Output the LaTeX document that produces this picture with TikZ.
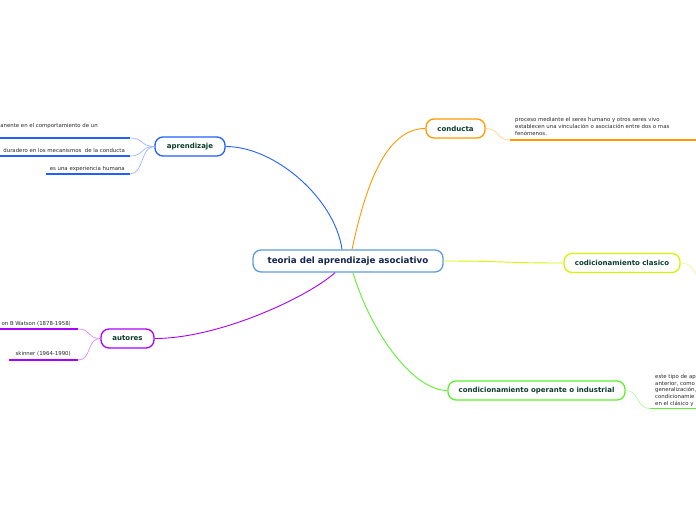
\documentclass[tikz,border=0pt]{standalone}
\usepackage{fontspec}
\setmainfont{DejaVu Sans}
\usetikzlibrary{positioning}
\usetikzlibrary{calc}
\definecolor{navy}{RGB}{22,36,80}
\definecolor{nodeink}{RGB}{12,60,45}
\definecolor{leafink}{RGB}{40,40,40}
\definecolor{frameblue}{RGB}{95,155,215}
\definecolor{blue}{RGB}{35,95,255}
\definecolor{orange}{RGB}{255,153,0}
\definecolor{lime}{RGB}{215,245,0}
\definecolor{green}{RGB}{95,240,45}
\definecolor{purple}{RGB}{170,0,255}

\begin{document}
\begin{tikzpicture}[x=1pt,y=-1pt,
    topic/.style={draw=#1, line width=1.3pt, rounded corners=8pt, fill=white, text=nodeink,
        font=\bfseries\fontsize{7}{8}\selectfont, minimum height=19pt},
    leaf/.style={text=leafink, font=\fontsize{5.4}{6.8}\selectfont, inner sep=0pt},
    link/.style={draw=#1, line width=0.9pt},
    twig/.style={draw=#1!45, line width=0.7pt},
    under/.style={draw=#1, line width=1.6pt}]
    \useasboundingbox (0,0) rectangle (696,520);
    \clip (0,0) rectangle (696,520);

    \node[topic=frameblue, text=navy, font=\bfseries\fontsize{8.7}{10}\selectfont,
        minimum width=190pt, minimum height=22pt] (teoria) at (348,261) {teoria del aprendizaje asociativo};
    \node[topic=blue, minimum width=70pt] (aprendizaje) at (190,146.5) {aprendizaje};
    \node[topic=orange, minimum width=59pt] (conducta) at (455.5,128.5) {conducta};
    \node[topic=lime, minimum width=116pt] (clasico) at (622,263) {codicionamiento clasico};
    \node[topic=green, minimum width=177pt] (operante) at (536.5,390.5) {condicionamiento operante o industrial};
    \node[topic=purple, minimum width=53pt] (autores) at (127.5,338.5) {autores};

    \draw[link=blue] ([xshift=-6pt]teoria.north) .. controls +(-7,-50) and +(50,0) .. (aprendizaje.east);
    \draw[link=orange] ([xshift=4pt]teoria.north) .. controls +(13,-60) and +(-41,0) .. (conducta.west);
    \draw[link=lime] (teoria.east) .. controls +(60,0) and +(-60,0) .. (clasico.west);
    \draw[link=green] ([xshift=5pt]teoria.south) .. controls +(19,63) and +(-33,0) .. (operante.west);
    \draw[link=purple] ([xshift=-13pt]teoria.south) .. controls +(-25,23) and +(66,0) .. (autores.east);

    \foreach \y/\b/\s/\e/\t [count=\i] in {138/127/0/98/{anente en el comportamiento de un},
        156/152/0/125/{duradero en los mecanismos\ \ de la conducta},
        174/170/46/125/{es una experiencia humana}} {
        \coordinate (aprend\i) at (130,\y);
        \node[leaf, anchor=base east] (aprtext\i) at (\e,\b) {\t};
        \draw[under=blue] (\s,\y) -- (aprend\i);
        \draw[twig=blue] (aprendizaje.west) .. controls +(-14,0) and +(14,0) .. (aprend\i);
    }

    \foreach \y/\b/\s/\t [count=\i] in {329/325/0/{on B Watson (1878-1958)},
        360/355/9/{skinner (1964-1990)}} {
        \coordinate (autor\i) at (78,\y);
        \node[leaf, anchor=base east] (auttext\i) at (71,\b) {\t};
        \draw[under=purple] (\s,\y) -- (autor\i);
        \draw[twig=purple] (autores.west) .. controls +(-14,0) and +(14,0) .. (autor\i);
    }

    \coordinate (condend) at (510,140);
    \node[leaf, anchor=north west, align=left] (condtext) at (515,117.5)
        {proceso mediante el seres humano y otros seres vivo\\establecen una vinculación o asociación entre dos o mas\\fenómenos.};
    \draw[under=orange] (condend) -- (700,140);
    \draw[twig=orange] (conducta.east) .. controls +(14,0) and +(-14,0) .. (condend);

    \coordinate (clasend) at (702,290);
    \draw[twig=lime] (clasico.east) .. controls +(12,0) and +(-4,-14) .. (clasend);

    \coordinate (operend) at (650,408.5);
    \node[leaf, anchor=north west, align=left] (opertext) at (655,374)
        {este tipo de ap\\anterior, como\\generalización,\\condicionamie\\en el clásico y};
    \draw[under=green] (operend) -- (700,408.5);
    \draw[twig=green] (operante.east) .. controls +(14,0) and +(-14,0) .. (operend);
\end{tikzpicture}
\end{document}
